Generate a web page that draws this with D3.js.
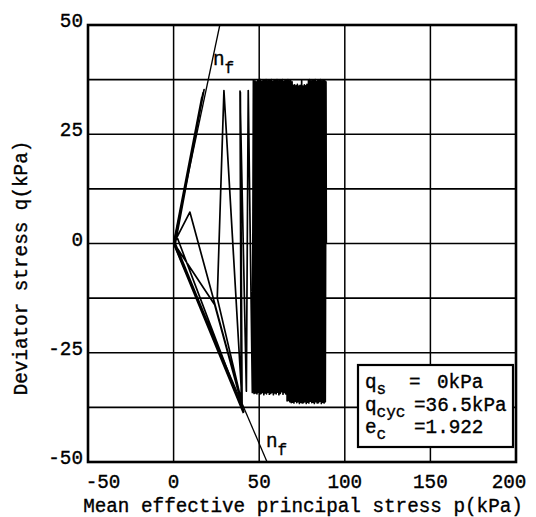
<!DOCTYPE html>
<html>
<head>
<meta charset="utf-8">
<script src="https://d3js.org/d3.v7.min.js"></script>
<style>
  body { margin: 0; background: #fff; }
  text { font-family: "Liberation Mono", "DejaVu Sans Mono", monospace; fill: #000; stroke: #000; stroke-width: 0.35px; }
</style>
</head>
<body>
<div id="viz"></div>
<script>
// tick values
var xTicks = [-50, 0, 50, 100, 150, 200];
var yTicks = [-50, -25, 0, 25, 50];
var gridQ = [-50, -37.5, -25, -12.5, 0, 12.5, 25, 37.5, 50];

// failure lines n_f (p, q)
var nfUpperP = [0, 27];
var nfUpperQ = [0, 50];
var nfLowerP = [0, 54.6];
var nfLowerQ = [0, -50];

// stable cycling block: peaks and troughs
var peakP = [89.0, 88.3, 87.5, 86.7, 85.9, 85.2, 84.3, 83.6, 82.7, 81.9, 81.2, 80.3, 79.5, 78.8, 77.9,
             77.2, 76.4, 75.5, 74.8, 73.9, 73.2, 72.3, 71.6, 70.7, 69.9, 69.2, 68.3, 67.5, 66.8, 65.9,
             65.1, 64.4, 63.5, 62.8, 61.9, 61.1, 60.4, 59.5, 58.7, 58.0, 57.1, 56.4, 55.5, 54.7, 54.0,
             53.1, 52.3, 51.6, 50.7, 49.9, 49.2, 48.3, 47.5, 46.6];
var peakQ = [37.0, 37.3, 37.4, 37.2, 37.5, 37.3, 37.4, 37.1, 37.5, 37.3, 37.4, 37.2, 37.5, 37.3, 36.4,
             36.1, 36.3, 36.0, 37.3, 36.2, 36.0, 36.4, 36.1, 36.3, 36.2, 37.0, 37.4, 37.2, 37.5, 37.3,
             37.4, 37.1, 37.5, 37.3, 37.4, 37.2, 37.5, 37.3, 37.4, 37.1, 37.5, 37.3, 37.4, 37.2, 37.5,
             37.3, 37.4, 37.1, 37.5, 37.3, 37.4, 37.0, 37.2, 37.3];
var troughP = [88.6, 87.9, 87.0, 86.3, 85.4, 84.7, 83.9, 83.1, 82.2, 81.5, 80.7, 79.9, 79.0, 78.3, 77.5,
               76.7, 75.9, 75.1, 74.3, 73.5, 72.7, 71.9, 71.1, 70.3, 69.5, 68.7, 67.9, 67.1, 66.3, 65.5,
               64.7, 63.9, 63.1, 62.3, 61.5, 60.7, 59.9, 59.1, 58.3, 57.5, 56.7, 55.9, 55.1, 54.3, 53.5,
               52.7, 51.9, 51.1, 50.3, 49.5, 48.7, 47.9, 47.0, 46.0];
var troughQ = [-36.2, -36.5, -36.3, -36.6, -36.1, -36.4, -36.5, -36.2, -36.6, -36.3, -36.4, -36.1, -36.5, -36.3, -36.6,
               -36.2, -36.4, -36.5, -36.3, -36.6, -36.2, -36.4, -36.1, -36.5, -36.3, -36.4, -36.2, -35.9, -36.0, -34.4,
               -34.1, -34.5, -33.9, -34.3, -34.6, -34.0, -34.4, -34.2, -34.6, -34.1, -34.3, -34.5, -34.0, -34.4, -34.2,
               -34.6, -34.1, -34.3, -34.5, -34.0, -34.4, -34.2, -34.3, -34.1];

// final cycles running into the origin
var tailP = [43.6, 42.5, 38.8, 39.5, 39.0, 40.0, 29.4, 25.5, 40.5, 9.5, 0.5, 17.8, 1.0, 39.6, 0.0,
             16.5, 0.3, 24.0, 41.0, 0.0, 17.2, 0.2, 40.2, 1.5, 16.0, 0.0, 40.8];
var tailQ = [35.0, -33.8, 34.9, -35.5, 34.6, -36.5, 35.0, -12.5, -37.5, 7.2, 0.3, 35.2, 0.0, -37.0, 0.0,
             33.5, 0.0, -14.0, -38.5, 0.0, 34.5, 0.0, -38.0, 2.0, 32.0, 0.0, -38.8];

var width = 536, height = 517;
var svg = d3.select("#viz").append("svg")
    .attr("width", width)
    .attr("height", height);

var x = d3.scaleLinear().domain([-50, 200]).range([88, 516]);
var y = d3.scaleLinear().domain([-50, 50]).range([462, 25]);

// grid
svg.append("g")
  .selectAll("line")
  .data(xTicks)
  .enter().append("line")
    .attr("x1", function(d) { return x(d); })
    .attr("x2", function(d) { return x(d); })
    .attr("y1", y(50))
    .attr("y2", y(-50))
    .attr("stroke", "#000")
    .attr("stroke-width", 1.5);
svg.append("g")
  .selectAll("line")
  .data(gridQ)
  .enter().append("line")
    .attr("x1", x(-50))
    .attr("x2", x(200))
    .attr("y1", function(d) { return y(d); })
    .attr("y2", function(d) { return y(d); })
    .attr("stroke", "#000")
    .attr("stroke-width", 1.6);

// frame
svg.append("rect")
  .attr("x", x(-50))
  .attr("y", y(50))
  .attr("width", x(200) - x(-50))
  .attr("height", y(-50) - y(50))
  .attr("fill", "none")
  .attr("stroke", "#000")
  .attr("stroke-width", 2.6);

// tick labels
svg.append("g")
  .selectAll("text")
  .data(yTicks)
  .enter().append("text")
    .attr("x", 83)
    .attr("y", function(d) { return y(d) + 2; })
    .attr("text-anchor", "end")
    .style("font-size", "19.3px")
    .text(function(d) { return d; });
svg.append("g")
  .selectAll("text")
  .data(xTicks)
  .enter().append("text")
    .attr("x", function(d) {
      if (d == -50) return x(d) + 15;
      if (d == 200) return x(d) - 7;
      return x(d);
    })
    .attr("y", 488)
    .attr("text-anchor", "middle")
    .style("font-size", "19.3px")
    .text(function(d) { return d; });

// axis titles
svg.append("text")
  .attr("x", 303)
  .attr("y", 512)
  .attr("text-anchor", "middle")
  .style("font-size", "19.3px")
  .text("Mean effective principal stress p(kPa)");
svg.append("text")
  .attr("transform", "translate(27,268) rotate(-90)")
  .attr("text-anchor", "middle")
  .style("font-size", "19.3px")
  .text("Deviator stress q(kPa)");

// failure lines
var line = d3.line()
  .x(function(d) { return x(d[0]); })
  .y(function(d) { return y(d[1]); });

svg.append("path")
  .datum(d3.zip(nfUpperP, nfUpperQ))
  .attr("fill", "none").attr("stroke", "#000").attr("stroke-width", 1.3)
  .attr("d", line);
svg.append("path")
  .datum(d3.zip(nfLowerP, nfLowerQ))
  .attr("fill", "none").attr("stroke", "#000").attr("stroke-width", 1.3)
  .attr("d", line);

// stress path: start at isotropic state, cycle, then tail
var path = [[89.2, 0]];
for (var i = 0; i < peakP.length; i++) {
  path.push([peakP[i], peakQ[i]]);
  path.push([troughP[i], troughQ[i]]);
}
path = path.concat(d3.zip(tailP, tailQ));

svg.append("path")
  .datum(path)
  .attr("fill", "none")
  .attr("stroke", "#000")
  .attr("stroke-width", 1.7)
  .attr("stroke-linejoin", "round")
  .attr("d", line);

// n_f labels
function nfLabel(px, py) {
  var t = svg.append("text").attr("x", px).attr("y", py).style("font-size", "19.3px");
  t.append("tspan").text("n");
  t.append("tspan").attr("dy", 8).style("font-size", "16px").text("f");
}
nfLabel(213, 65);
nfLabel(266, 447);

// legend box
svg.append("rect")
  .attr("x", 358).attr("y", 365)
  .attr("width", 155).attr("height", 82)
  .attr("fill", "#fff")
  .attr("stroke", "#000")
  .attr("stroke-width", 2.2);

var leg = svg.append("g").style("font-size", "19.3px");
var l1 = leg.append("text").attr("x", 365).attr("y", 388);
l1.append("tspan").text("q");
l1.append("tspan").attr("dy", 6).style("font-size", "16px").text("s");
l1.append("tspan").attr("x", 409).attr("y", 388).text("=");
l1.append("tspan").attr("x", 437).attr("y", 388).text("0kPa");
var l2 = leg.append("text").attr("x", 365).attr("y", 411);
l2.append("tspan").text("q");
l2.append("tspan").attr("dy", 6).style("font-size", "16px").text("cyc");
l2.append("tspan").attr("x", 414).attr("y", 411).text("=36.5kPa");
var l3 = leg.append("text").attr("x", 365).attr("y", 433);
l3.append("tspan").text("e");
l3.append("tspan").attr("dy", 6).style("font-size", "16px").text("c");
l3.append("tspan").attr("x", 414).attr("y", 433).text("=1.922");
</script>
</body>
</html>
